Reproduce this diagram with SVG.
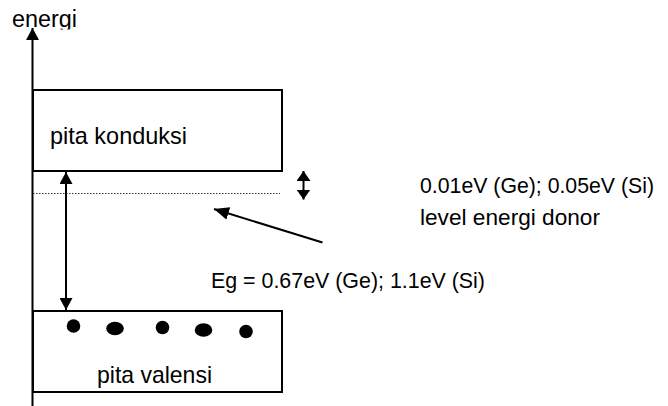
<svg xmlns="http://www.w3.org/2000/svg" width="668" height="406" viewBox="0 0 668 406">
  <style>
    text { font-family: "Liberation Sans", Arial, sans-serif; fill: #000; }
    .band { fill: #fff; stroke: #000; stroke-width: 2; }
    .line { stroke: #000; stroke-width: 2; fill: none; }
    .dot { fill: #000; }
  </style>
  <defs>
    <marker id="head" markerUnits="userSpaceOnUse" markerWidth="13" markerHeight="13" refX="12" refY="6.5" orient="auto-start-reverse">
      <path d="M0,0 L12,6.5 L0,13 z" fill="#000"/>
    </marker>
    <marker id="headSmall" markerUnits="userSpaceOnUse" markerWidth="11" markerHeight="14" refX="10" refY="7" orient="auto-start-reverse">
      <path d="M0,0 L10,7 L0,14 z" fill="#000"/>
    </marker>
    <marker id="headLong" markerUnits="userSpaceOnUse" markerWidth="16" markerHeight="13" refX="15" refY="6.5" orient="auto">
      <path d="M0,0 L15,6.5 L0,13 z" fill="#000"/>
    </marker>
    <clipPath id="axisLabelClip">
      <rect x="0" y="0" width="120" height="29.5"/>
    </clipPath>
  </defs>

  <!-- energy axis -->
  <g id="axis">
    <text x="12" y="27" font-size="23.5" clip-path="url(#axisLabelClip)" textLength="65" lengthAdjust="spacingAndGlyphs">energi</text>
    <line class="line" x1="32.5" y1="406" x2="32.5" y2="28" marker-end="url(#head)"/>
  </g>

  <!-- conduction band -->
  <g id="conduction-band">
    <rect class="band" x="33" y="90" width="249" height="81"/>
    <text x="50" y="143.5" font-size="24" textLength="137" lengthAdjust="spacingAndGlyphs">pita konduksi</text>
  </g>

  <!-- donor level -->
  <g id="donor-level">
    <line x1="33" y1="193.5" x2="280" y2="193.5" stroke="#333" stroke-width="1.2" stroke-dasharray="1.5 1.5"/>
  </g>

  <!-- valence band with electrons -->
  <g id="valence-band">
    <rect class="band" x="33" y="311" width="249" height="81"/>
    <circle class="dot" cx="73.5" cy="326" r="6.8"/>
    <ellipse class="dot" cx="115" cy="328.5" rx="8.8" ry="6.8"/>
    <circle class="dot" cx="162.5" cy="327.5" r="6.8"/>
    <ellipse class="dot" cx="203.5" cy="330" rx="8.8" ry="6.8"/>
    <circle class="dot" cx="246" cy="331.5" r="6.8"/>
    <text x="97" y="383" font-size="24" textLength="115" lengthAdjust="spacingAndGlyphs">pita valensi</text>
  </g>

  <!-- labels -->
  <g id="label-donor-gap">
    <text x="420" y="193" font-size="22.5" textLength="234" lengthAdjust="spacingAndGlyphs">0.01eV (Ge); 0.05eV (Si)</text>
  </g>
  <g id="label-donor">
    <text x="420" y="225" font-size="22.5" textLength="180" lengthAdjust="spacingAndGlyphs">level energi donor</text>
  </g>
  <g id="label-gap">
    <text x="211" y="288" font-size="22.5" textLength="274" lengthAdjust="spacingAndGlyphs">Eg = 0.67eV (Ge); 1.1eV (Si)</text>
  </g>

  <!-- connectors -->
  <g id="connectors">
    <line class="line" x1="66" y1="172" x2="66" y2="310" marker-start="url(#head)" marker-end="url(#head)"/>
    <line class="line" x1="303.5" y1="171" x2="303.5" y2="199.5" marker-start="url(#headSmall)" marker-end="url(#headSmall)"/>
    <line class="line" x1="322.5" y1="242.5" x2="214" y2="209" marker-end="url(#headLong)"/>
  </g>
</svg>
